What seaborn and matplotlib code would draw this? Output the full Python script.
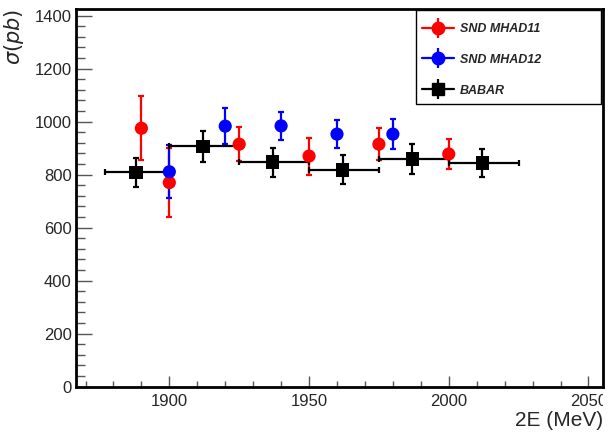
import numpy as np
import pandas as pd
import matplotlib
matplotlib.use("Agg")
import matplotlib.pyplot as plt
import seaborn as sns
from matplotlib.lines import Line2D
from matplotlib.patches import Rectangle
from matplotlib.legend_handler import HandlerTuple
from matplotlib.transforms import Bbox

# SND, MHAD2011 scan
snd11_e = [1890, 1900, 1925, 1950, 1975, 2000]
snd11_xs = [975, 770, 915, 870, 915, 878]
snd11_err = [120, 130, 65, 70, 60, 55]

# SND, MHAD2012 scan
snd12_e = [1900, 1920, 1940, 1960, 1980]
snd12_xs = [811, 983, 984, 953, 953]
snd12_err = [100, 67, 52, 52, 57]

# BABAR, binned
babar_e = [1888, 1912, 1937, 1962, 1987, 2012]
babar_lo = [1877, 1900, 1925, 1950, 1975, 2000]
babar_hi = [1900, 1925, 1950, 1975, 2000, 2025]
babar_xs = [809, 907, 847, 818, 859, 844]
babar_err = [55, 58, 55, 55, 58, 54]

sns.set_style("ticks")
plt.rcParams["font.family"] = ["Liberation Sans", "DejaVu Sans"]

W, H = 613, 433
fig = plt.figure(figsize=(W / 100, H / 100), dpi=100)
ax = fig.add_axes([76 / W, 46.3 / H, 527 / W, 377.7 / H])

frames = [
    pd.DataFrame({"E": snd11_e, "xs": snd11_xs, "err": snd11_err, "src": "SND MHAD11"}),
    pd.DataFrame({"E": snd12_e, "xs": snd12_xs, "err": snd12_err, "src": "SND MHAD12"}),
]
colors = {"SND MHAD11": "#ff0000", "SND MHAD12": "#0000ff"}

for df in frames:
    c = colors[df["src"].iloc[0]]
    ax.errorbar(df["E"], df["xs"], yerr=df["err"], fmt="none", ecolor=c,
                elinewidth=1.6, capsize=2.2, capthick=1.6, zorder=2)
    sns.scatterplot(data=df, x="E", y="xs", color=c, marker="o", s=90,
                    edgecolor="none", ax=ax, zorder=3, legend=False)

babar = pd.DataFrame({"E": babar_e, "xs": babar_xs})
xerr = [np.subtract(babar_e, babar_lo), np.subtract(babar_hi, babar_e)]
ax.errorbar(babar_e, babar_xs, xerr=xerr, yerr=babar_err, fmt="none", ecolor="black",
            elinewidth=1.6, capsize=2.2, capthick=1.6, zorder=2)
sns.scatterplot(data=babar, x="E", y="xs", color="black", marker="s", s=95,
                edgecolor="none", ax=ax, zorder=3, legend=False)

ax.set_xlim(1866.6, 2055.2)
ax.set_ylim(0, 1425)
ax.set_xticks([1900, 1950, 2000, 2050])
ax.set_xticks(np.arange(1870, 2055, 10), minor=True)
ax.set_yticks(np.arange(0, 1401, 200))
ax.set_yticks(np.arange(0, 1425, 40), minor=True)
ax.tick_params(axis="both", which="both", direction="in", width=1,
               color="#555555", labelsize=12)
ax.tick_params(axis="x", which="major", length=8, pad=5)
ax.tick_params(axis="x", which="minor", length=4.3)
ax.tick_params(axis="y", which="major", length=11.5, pad=3)
ax.tick_params(axis="y", which="minor", length=6.5)
for sp in ax.spines.values():
    sp.set_visible(True)
    sp.set_linewidth(2)
    sp.set_color("black")

ax.set_xlabel("2E (MeV)", fontsize=15, loc="right", labelpad=2)
ax.set_ylabel(r"$\sigma(pb)$", fontsize=15, loc="top", labelpad=2)
ax.yaxis.set_label_coords(-0.095, 1.0)

# canvas edge clips the last x tick label
fig.canvas.draw()
clip = Bbox.from_extents(0, 0, 603, H)
for lab in ax.get_xticklabels():
    lab.set_clip_box(clip)
    lab.set_clip_on(True)

def handle(c, m):
    h = Line2D([], [], color=c, lw=1.6, marker=m, ms=9, mec=c, mfc=c)
    v = Line2D([], [], color=c, ls="none", marker="|", ms=15, mew=1.6)
    return (h, v)

handles = [handle("#ff0000", "o"), handle("#0000ff", "o"), handle("black", "s")]
labels = ["SND MHAD11", "SND MHAD12", "BABAR"]

# legend frame (pixel box 416..601 x 10..104)
ax.add_patch(Rectangle((416 / W, 1 - 104 / H), 185 / W, 94 / H,
                       transform=fig.transFigure, fill=True, facecolor="white",
                       edgecolor="black", linewidth=1, zorder=5, clip_on=False))
leg = ax.legend(handles, labels, handler_map={tuple: HandlerTuple(ndivide=1, pad=0)},
                loc="upper left", bbox_to_anchor=(421.5 / W, 1 - 23 / H),
                bbox_transform=fig.transFigure, frameon=False,
                handlelength=2.6, labelspacing=1.5, borderpad=0, borderaxespad=0,
                handletextpad=0.5,
                prop={"style": "italic", "weight": "bold", "size": 9})
leg.set_zorder(6)

fig.savefig("out.png", dpi=100)
